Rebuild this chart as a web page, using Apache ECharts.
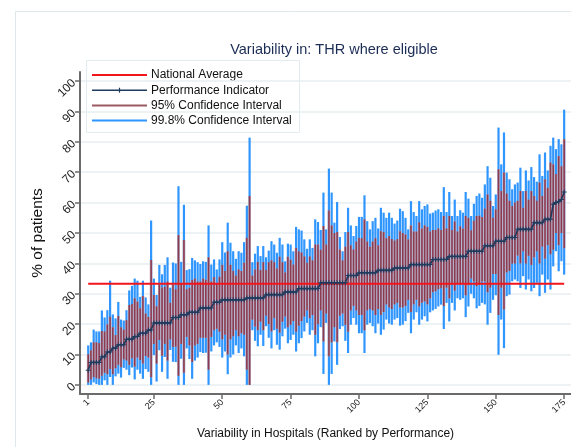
<!DOCTYPE html>
<html>
<head>
<meta charset="utf-8">
<title>Variability in: THR where eligible</title>
<script src="https://cdn.jsdelivr.net/npm/echarts@6/dist/echarts.min.js"></script>
<style>
  html, body { margin: 0; padding: 0; background: #fff; }
  #chart { width: 571px; height: 447px; }
</style>
</head>
<body>
<div id="chart"></div>
<script>
// national average (%)
const NATIONAL_AVG = 33.3;

// performance indicator per hospital, ranked
const performance = [
  4.8, 7.4, 7.4, 7.4, 7.4, 9.3, 9.3, 10.8, 10.8, 12.1,
  12.1, 13.2, 13.2, 13.2, 15, 15, 15, 15.9, 15.9, 17,
  17, 17, 18.1, 18.1, 20.4, 20.4, 20.4, 20.4, 20.4, 20.4,
  20.4, 22.2, 22.2, 22.2, 23.1, 23.1, 23.1, 23.9, 23.9, 23.9,
  23.9, 25.3, 25.3, 25.3, 25.3, 25.3, 27.2, 27.2, 27.2, 28,
  28, 28, 28, 28, 28, 28, 28, 28, 28.6, 28.6,
  28.6, 28.6, 28.6, 28.6, 28.6, 29.7, 29.7, 29.7, 29.7, 29.7,
  29.7, 29.7, 30.6, 30.6, 30.6, 30.6, 30.6, 31.7, 31.7, 31.7,
  31.7, 31.7, 31.7, 31.7, 31.7, 33.6, 33.6, 33.6, 33.6, 33.6,
  33.6, 33.6, 33.6, 33.6, 33.6, 36, 36, 36, 36, 36.9,
  36.9, 36.9, 36.9, 36.9, 36.9, 36.9, 37.7, 37.7, 37.7, 37.7,
  37.7, 37.7, 38.5, 38.5, 38.5, 38.5, 38.5, 38.5, 39.6, 39.6,
  39.6, 39.6, 39.6, 39.6, 39.6, 39.6, 41.3, 41.3, 41.3, 41.3,
  41.3, 41.3, 42.3, 42.3, 42.3, 42.3, 42.3, 42.3, 42.3, 44,
  44, 44, 44, 44, 44, 45.8, 45.8, 45.8, 45.8, 47.3,
  47.3, 47.3, 47.3, 48.5, 48.5, 48.5, 48.5, 51.2, 51.2, 51.2,
  51.2, 51.2, 51.2, 53.4, 53.4, 53.4, 53.4, 54.5, 54.5, 54.5,
  59.5, 60, 60.3, 61, 63.5
];

// 99.8% confidence interval
const upper998 = [
  13, 14, 18.2, 17.6, 17.6, 24.5, 22.2, 24.6, 34.3, 23.2,
  21.9, 27.3, 21.5, 21.2, 24.6, 31.1, 32.6, 35, 34.3, 29,
  34.3, 28.8, 26.5, 54.1, 35, 29.6, 39.5, 36.4, 39.5, 42,
  32, 40.3, 40, 65.4, 40.5, 59.3, 37.8, 38.1, 41.8, 41,
  40.4, 39.8, 40.7, 40.5, 52.5, 39.6, 41.3, 38, 41.3, 47,
  43.6, 53.4, 46.8, 44, 41.5, 44, 43.5, 47, 59, 81.4,
  40.4, 43.2, 45.7, 42.4, 45.7, 42, 44.2, 47.3, 46.2, 43.5,
  48.4, 46.2, 40.7, 46.5, 46.2, 44, 52, 51.2, 50.8, 47.9,
  44.8, 47.9, 45.1, 54.5, 53.6, 51, 63.3, 51.2, 71.2, 63.3,
  53.4, 60.2, 48.7, 44, 50.3, 58.3, 52.5, 49, 52.3, 55.3,
  55.3, 62.4, 53.9, 51.2, 53.9, 55, 51.5, 58.3, 56.7, 55,
  56.7, 55, 53.1, 54.1, 58, 57.2, 55, 51.2, 60.5, 56.9,
  55.6, 60.5, 57.8, 58.9, 59.4, 56.4, 56.7, 57.4, 57.8, 56.9,
  65.1, 56.9, 63.5, 55.6, 61, 55.6, 57.5, 56.7, 63.5, 61.3,
  55.6, 59.6, 62.2, 63, 61.6, 66, 72, 68.2, 58.9, 62.7,
  84.7, 72.6, 83.1, 69.9, 67.7, 64.4, 66, 66.6, 71.5, 63.8,
  70.6, 67.3, 71.7, 68.4, 66.9, 75.9, 68.8, 76.5, 70.6, 78.7,
  81.4, 77.6, 80.9, 79.2, 90.6
];
const lower998 = [
  0, 0, 0.8, 0.3, 0, 0, 1.5, 0, 2.6, 0,
  2.8, 3.7, 2.4, 5.6, 5, 3.2, 5.7, 1.8, 5, 3.7,
  2, 5.2, 4.3, 0, 9.8, 1.1, 11.4, 4.3, 9.2, 2,
  11.5, 7.6, 7.5, 0, 8.6, 0, 12, 8.5, 2, 8,
  9, 10.8, 10.5, 10.6, 0, 11, 13, 14, 12.5, 9,
  11, 3.5, 9, 10, 13, 10.5, 12, 9.4, 0, 0,
  18, 14.5, 12.7, 16.5, 12.8, 19.3, 15.5, 12, 18, 13.2,
  11.6, 16, 18.5, 13.7, 14.8, 16.5, 11, 13.7, 15.4, 17.6,
  20.4, 16.5, 18, 9.4, 13.7, 19, 3.6, 20.4, 0, 3.6,
  14.3, 6.6, 18.4, 19.3, 14.5, 10.5, 19.8, 22, 19.8, 17,
  17, 10.5, 19.8, 20.4, 19.3, 17, 20.2, 16.5, 18.2, 21.5,
  20.2, 19.8, 21.5, 22, 19.5, 19.8, 21, 23.7, 17, 21.5,
  23.9, 19.8, 21.5, 22.6, 20.9, 23.9, 24.5, 25, 25.8, 26.4,
  18.4, 27, 20.9, 27, 24.5, 28.5, 28, 28.5, 22.3, 25.8,
  30, 28.5, 25.2, 26, 27, 26.5, 19.8, 23.7, 28, 29.5,
  9.9, 21.5, 12.1, 29.2, 29.7, 34.1, 34.7, 34.1, 31.9, 35.8,
  31.4, 34.7, 30.8, 31.9, 33.6, 29.2, 36.3, 30.3, 34.7, 31.4,
  39, 44, 37.4, 40.7, 36.3
];

// 95% confidence interval
const upper95 = [
  10.1, 11.4, 14, 14, 13.8, 17.7, 17.6, 19.9, 22.4, 19,
  16.4, 22.7, 19, 18.2, 21.3, 26.3, 26.6, 28.5, 27.4, 25.2,
  29.3, 23.5, 22.4, 41.1, 29.6, 25.9, 32.9, 32.1, 32.3, 34,
  27, 33, 31.5, 49.3, 33.5, 47.7, 31.5, 32, 34.5, 35,
  34, 34, 35, 34.6, 42, 34, 35.5, 33.5, 35.6, 39.5,
  37.5, 44, 39.5, 37.5, 36, 38, 37.5, 40.2, 48.4, 62.2,
  36, 38, 40.5, 37.8, 40.4, 37.8, 40.4, 41, 40.4, 38.3,
  42.2, 40.4, 37, 42.2, 41.2, 39.6, 45.1, 44, 43.6, 42.3,
  40.2, 42.3, 41, 46.2, 46.2, 44.5, 52.3, 46.2, 57.4, 52.5,
  50, 50.3, 44.6, 41, 45.5, 50.3, 46, 44.6, 47.2, 48.4,
  48.3, 54.5, 47.2, 45.5, 47.2, 48.3, 46, 50.6, 50.3, 48.3,
  49, 48, 47.5, 48, 50.6, 50, 49.5, 47.9, 52.5, 50.5,
  50.5, 53.5, 51.5, 52.5, 52, 50.5, 51, 51, 51.5, 51,
  55.6, 51.5, 55.6, 51, 53.8, 50.5, 52.2, 51.5, 55.6, 55,
  50.9, 54, 55.6, 55.7, 55.3, 58, 62.7, 60.6, 55, 57.8,
  71, 63.8, 69.9, 63, 60.6, 58.9, 60, 60.6, 63.8, 58.3,
  63.8, 61, 63.8, 62.2, 60.6, 66.6, 62.2, 67.7, 64.9, 73.2,
  72.6, 69.4, 75.3, 72, 80.9
];
const lower95 = [
  0.8, 1.8, 2.6, 2.2, 2, 3, 4, 3.5, 5.2, 3.5,
  5.5, 6.6, 5.8, 8.4, 8, 6.6, 8.8, 6, 9, 8.2,
  7, 9.5, 9, 2.5, 13.5, 7, 14.8, 9.6, 13.5, 8,
  15, 12.5, 12.6, 3, 13.5, 4, 15.8, 13, 7.5, 13,
  13.5, 15.5, 15.5, 15.5, 5, 15.8, 18, 18.5, 17.5, 15,
  16.5, 10, 15, 16, 18, 16, 17, 16.5, 5, 0,
  21.5, 19.2, 18, 20.8, 18, 22.8, 20, 17.6, 22, 18.5,
  17.2, 20.8, 22.5, 19, 19.8, 21, 17.5, 19.5, 21, 22.5,
  24.5, 22, 23, 16.5, 20, 24.5, 14.3, 23.5, 9.4, 14,
  19, 14, 22.8, 23.5, 19.8, 17.5, 24.5, 26, 24.5, 23,
  23, 18, 24.5, 25, 24.5, 23, 25, 23, 24, 26.5,
  25.5, 25, 26.5, 27, 25.5, 25.5, 26, 28, 24, 26.5,
  28, 25.8, 27, 27.5, 26.5, 28.5, 30.5, 30.8, 31.5, 31.8,
  26, 32, 28.5, 33, 31, 33.5, 33, 33.5, 29.5, 32.8,
  35, 34, 32.5, 33, 34, 34, 30.5, 32, 36.5, 36.5,
  23, 32, 24.8, 37, 37.5, 40, 40, 42.6, 40, 44,
  40, 42.5, 39.5, 42, 44, 40, 45.5, 41.5, 46, 43,
  44.5, 50, 46, 50, 45
];

const xTicks = [1, 25, 50, 75, 100, 125, 150, 175];
const yTicks = [0, 10, 20, 30, 40, 50, 60, 70, 80, 90, 100];

const hospitals = performance.map((_, k) => k + 1);

const FONT = "'Liberation Sans', Arial, sans-serif";
const COLOR_AVG = "#f2161c";
const COLOR_PI = "#1f3b5e";
const COLOR_95 = "#8a3b50";
const COLOR_95_FILL = "#bdaec3";
const COLOR_998 = "#3096ff";

function renderCI998(params, api) {
  const x = api.value(0);
  const lo = api.coord([x, api.value(1)]);
  const hi = api.coord([x, api.value(2)]);
  const w = 2.2;
  return {
    type: "rect",
    shape: { x: lo[0] - w / 2, y: hi[1], width: w, height: lo[1] - hi[1] },
    style: { fill: COLOR_998 },
  };
}

function renderCI95(params, api) {
  const x = api.value(0);
  const lo = api.coord([x, api.value(1)]);
  const hi = api.coord([x, api.value(2)]);
  const slot = api.size([1, 0])[0];
  const h = lo[1] - hi[1];
  return {
    type: "group",
    children: [
      {
        type: "rect",
        shape: { x: lo[0] - slot / 2, y: hi[1], width: slot, height: h },
        style: { fill: COLOR_95_FILL },
      },
      {
        type: "rect",
        shape: { x: lo[0] - 0.8, y: hi[1], width: 1.6, height: h },
        style: { fill: COLOR_95 },
      },
    ],
  };
}

const legendItems = [
  { label: "National Average", color: COLOR_AVG, width: 2, mark: false },
  { label: "Performance Indicator", color: COLOR_PI, width: 1.5, mark: true },
  { label: "95% Confidence Interval", color: "#9a5a60", width: 2, mark: false },
  { label: "99.8% Confidence Interval", color: COLOR_998, width: 2, mark: false },
];

function buildLegend() {
  const children = [
    {
      type: "rect",
      shape: { x: 86.5, y: 60.5, width: 213, height: 72 },
      style: { fill: "#fff", stroke: "#e2ebee", lineWidth: 1 },
    },
  ];
  legendItems.forEach((it, k) => {
    const y = 75 + k * 15.2;
    children.push({
      type: "line",
      shape: { x1: 92, y1: y, x2: 147, y2: y },
      style: { stroke: it.color, lineWidth: it.width },
    });
    if (it.mark) {
      children.push({
        type: "line",
        shape: { x1: 119.5, y1: y - 2.5, x2: 119.5, y2: y + 2.5 },
        style: { stroke: it.color, lineWidth: 1.2 },
      });
    }
    children.push({
      type: "text",
      style: {
        x: 151, y: y, text: it.label, fill: "#111",
        font: "12px " + FONT, textVerticalAlign: "middle",
      },
    });
  });
  return { type: "group", z: 100, children };
}

const chart = echarts.init(document.getElementById("chart"), null, { renderer: "canvas" });

chart.setOption({
  animation: false,
  backgroundColor: "#fff",
  textStyle: { fontFamily: FONT },
  title: {
    text: "Variability in: THR where eligible",
    left: 329,
    top: 37,
    textAlign: "center",
    textStyle: { color: "#1b2c55", fontSize: 14.5, fontWeight: "normal", fontFamily: FONT },
  },
  grid: { left: 80, right: -6, top: 72, bottom: 53, containLabel: false },
  xAxis: {
    type: "value",
    min: -2,
    max: 177.5,
    name: "Variability in Hospitals (Ranked by Performance)",
    nameLocation: "middle",
    nameGap: 34,
    nameTextStyle: { fontSize: 12, color: "#111", fontFamily: FONT },
    axisLine: { show: true, onZero: false, lineStyle: { color: "#6b6b6b", width: 2 } },
    axisTick: { show: true, length: 5, customValues: xTicks, lineStyle: { color: "#6b6b6b", width: 1.5 } },
    axisLabel: { customValues: xTicks, rotate: 45, fontSize: 9, color: "#222", margin: 7, fontFamily: FONT },
    splitLine: { show: false },
  },
  yAxis: {
    type: "value",
    min: -3,
    max: 103,
    name: "% of patients",
    nameLocation: "middle",
    nameGap: 30,
    nameTextStyle: { fontSize: 15.5, color: "#111", fontFamily: FONT },
    axisLine: { show: true, onZero: false, lineStyle: { color: "#6b6b6b", width: 2 } },
    axisTick: { show: true, length: 5, customValues: yTicks, lineStyle: { color: "#6b6b6b", width: 1.5 } },
    axisLabel: { customValues: yTicks, rotate: 45, fontSize: 12, color: "#222", margin: 6, fontFamily: FONT },
    splitLine: { show: true, lineStyle: { color: "#e7eef1", width: 1.5 } },
  },
  graphic: [
    {
      type: "rect",
      z: -10,
      shape: { x: 15.5, y: 11.5, width: 620, height: 470 },
      style: { fill: "none", stroke: "#dfe9ec", lineWidth: 1 },
    },
    buildLegend(),
  ],
  series: [
    {
      name: "99.8% Confidence Interval",
      type: "custom",
      renderItem: renderCI998,
      encode: { x: 0, y: [1, 2] },
      data: hospitals.map((h, k) => [h, lower998[k], upper998[k]]),
      z: 2,
    },
    {
      name: "95% Confidence Interval",
      type: "custom",
      renderItem: renderCI95,
      encode: { x: 0, y: [1, 2] },
      data: hospitals.map((h, k) => [h, lower95[k], upper95[k]]),
      z: 3,
    },
    {
      name: "National Average",
      type: "line",
      data: hospitals.map((h) => [h, NATIONAL_AVG]),
      showSymbol: false,
      lineStyle: { color: COLOR_AVG, width: 2 },
      z: 4,
    },
    {
      name: "Performance Indicator",
      type: "line",
      data: hospitals.map((h, k) => [h, performance[k]]),
      symbol: "path://M2,0H3V2H5V3H3V5H2V3H0V2H2Z",
      symbolSize: 5,
      itemStyle: { color: COLOR_PI },
      lineStyle: { color: COLOR_PI, width: 1.6 },
      z: 5,
    },
  ],
});
</script>
</body>
</html>
